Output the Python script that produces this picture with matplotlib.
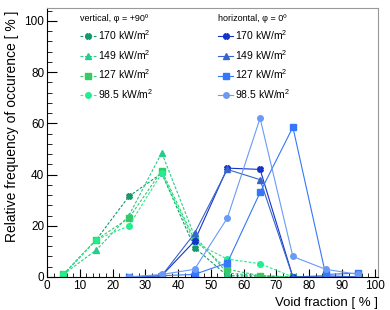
import matplotlib
matplotlib.use("Agg")
import matplotlib.pyplot as plt
from matplotlib.ticker import MultipleLocator

plt.rcParams['font.family'] = ['Liberation Sans', 'DejaVu Sans']
plt.rcParams['mathtext.default'] = 'regular'

# void fraction bin centres [%]
x_vert = [5, 15, 25, 35, 45, 55, 65, 75]
x_hori = [25, 35, 45, 55, 65, 75, 85, 95]

# vertical, phi = +90
v170 = [1.0, 14.5, 31.5, 40.5, 11.5, 0.5, 0.3, 0.0]
v149 = [1.0, 10.5, 24.0, 48.5, 16.0, 1.5, 0.5, 0.0]
v127 = [1.0, 14.5, 23.0, 41.5, 14.5, 3.0, 0.5, 0.0]
v98 = [1.0, 14.5, 20.0, 40.5, 13.5, 7.0, 5.2, 0.0]

# horizontal, phi = 0
h170 = [0.0, 0.5, 14.0, 42.5, 42.0, 0.0, 0.0, 0.0]
h149 = [0.0, 0.5, 17.0, 42.0, 38.0, 0.0, 0.5, 0.0]
h127 = [0.0, 0.5, 1.0, 5.5, 33.0, 58.5, 1.0, 1.5]
h98 = [0.0, 1.0, 3.0, 23.0, 62.0, 8.0, 3.0, 1.0]

labels = ['170 kW/m$^2$', '149 kW/m$^2$', '127 kW/m$^2$', '98.5 kW/m$^2$']
markers = ['X', '^', 's', 'o']
green = ['#139a68', '#25cc8c', '#38c868', '#22ee8e']
blue = ['#1434c8', '#3666cc', '#3577fa', '#6a9af8']

fig = plt.figure(figsize=(3.9, 3.1), dpi=100)
ax = fig.add_axes([0.1205, 0.1065, 0.849, 0.8675])

vlines = []
for ys, c, m, l in zip([v170, v149, v127, v98], green, markers, labels):
    ln, = ax.plot(x_vert, ys, ls=(0, (2.5, 1.5)), lw=0.8, color=c,
                  marker=m, ms=4, mec=c, mfc=c, label=l)
    vlines.append(ln)

hlines = []
for ys, c, m, l in zip([h170, h149, h127, h98], blue, markers, labels):
    ln, = ax.plot(x_hori, ys, ls='-', lw=0.8, color=c,
                  marker=m, ms=4, mec=c, mfc=c, label=l)
    hlines.append(ln)

ax.set_xlim(0, 101)
ax.set_ylim(0, 105)
ax.xaxis.set_major_locator(MultipleLocator(10))
ax.xaxis.set_minor_locator(MultipleLocator(2))
ax.yaxis.set_major_locator(MultipleLocator(20))
ax.yaxis.set_minor_locator(MultipleLocator(4))
ax.tick_params(which='both', direction='in', top=False, right=False, labelsize=8.5)
ax.tick_params(axis='y', which='major', length=7, pad=2)
ax.tick_params(axis='y', which='minor', length=3.5)
ax.tick_params(axis='x', which='major', length=6, pad=2)
ax.tick_params(axis='x', which='minor', length=3)
for s in ['top', 'right']:
    ax.spines[s].set_color('#999999')
for s in ax.spines.values():
    s.set_linewidth(0.8)

ax.set_xlabel('Void fraction [ % ]', loc='right', fontsize=9.5)
ax.set_ylabel('Relative frequency of occurence [ % ]', loc='top', fontsize=10)
ax.xaxis.set_label_coords(1.0, -0.075)
ax.yaxis.set_label_coords(-0.085, 0.99)

leg1 = ax.legend(handles=vlines, title='vertical, \u03c6 = +90\u00ba', loc='upper left',
                 bbox_to_anchor=(0.087, 0.995), frameon=False, fontsize=7.5,
                 title_fontsize=6.5, alignment='left', handlelength=1.5,
                 handletextpad=0.2, labelspacing=0.55, borderaxespad=0)
ax.add_artist(leg1)
ax.legend(handles=hlines, title='horizontal, \u03c6 = 0\u00ba', loc='upper left',
          bbox_to_anchor=(0.503, 0.995), frameon=False, fontsize=7.5,
          title_fontsize=6.5, alignment='left', handlelength=1.5,
          handletextpad=0.2, labelspacing=0.55, borderaxespad=0)

fig.savefig('out.png', dpi=100)
